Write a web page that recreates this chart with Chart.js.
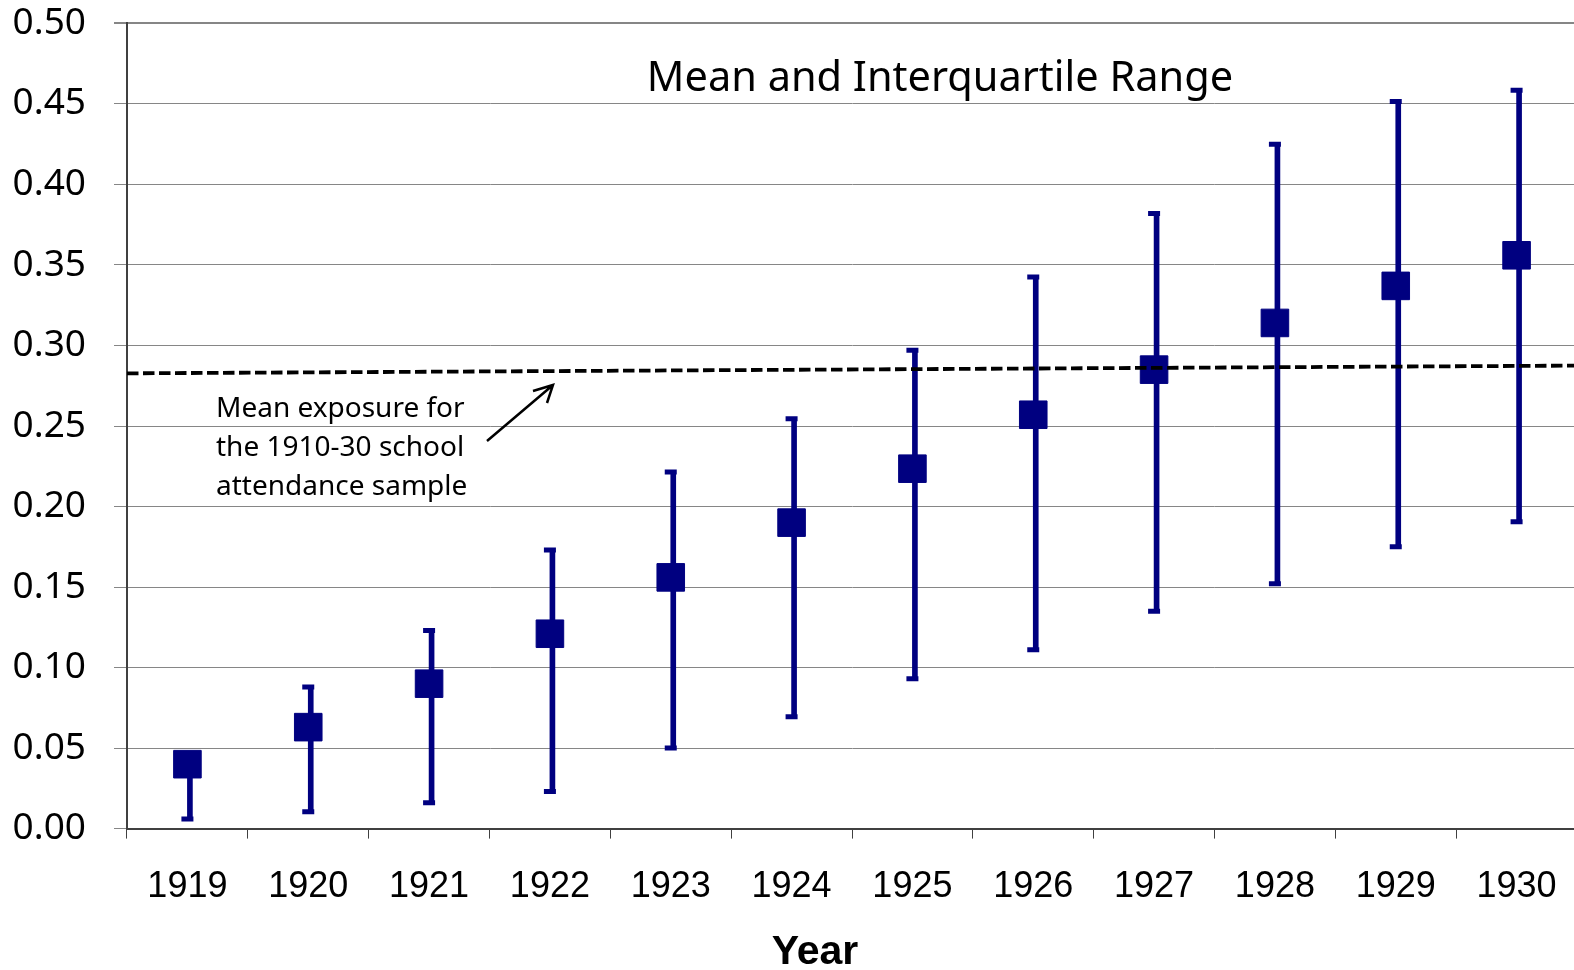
<!DOCTYPE html>
<html>
<head>
<meta charset="utf-8">
<script src="https://cdn.jsdelivr.net/npm/chart.js@4.4.1/dist/chart.umd.min.js"></script>
<style>
html, body { margin: 0; padding: 0; overflow: hidden; background: #fff; }
#wrap { width: 1577px; height: 970px; }
</style>
</head>
<body>
<div id="wrap"><canvas id="exposure-chart"></canvas></div>
<script>
const years = ['1919', '1920', '1921', '1922', '1923', '1924', '1925', '1926', '1927', '1928', '1929', '1930'];
const means = [0.040, 0.063, 0.090, 0.121, 0.156, 0.190, 0.2235, 0.257, 0.285, 0.314, 0.337, 0.356];
const q25 = [0.006, 0.0105, 0.016, 0.023, 0.050, 0.0695, 0.093, 0.111, 0.135, 0.152, 0.175, 0.1905];
const q75 = [0.035, 0.088, 0.123, 0.173, 0.2215, 0.2545, 0.297, 0.3425, 0.382, 0.425, 0.4515, 0.4585];
// sample mean line, left edge to right edge of the plot
const refLine = [{ x: 0, y: 0.2827 }, { x: 12, y: 0.2875 }];

const chartTitle = 'Mean and Interquartile Range';
const xTitle = 'Year';
const noteLines = ['Mean exposure for', 'the 1910-30 school', 'attendance sample'];

const navy = '#000080';

// title, axis title, note and arrow
const notes = {
    id: 'notes',
    afterDraw(chart) {
        const c = chart.ctx;
        c.save();
        c.fillStyle = '#000';
        c.textBaseline = 'middle';
        c.textAlign = 'center';
        c.font = '41.5px "Noto Sans"';
        c.fillText(chartTitle, 940, 79);

        c.textBaseline = 'alphabetic';
        c.font = 'bold 41px "Liberation Sans"';
        c.fillText(xTitle, 815, 964);

        c.textBaseline = 'middle';
        c.textAlign = 'left';
        c.font = '28px "Noto Sans"';
        noteLines.forEach((t, i) => c.fillText(t, 216, 409 + i * 39));

        c.strokeStyle = '#000';
        c.lineWidth = 2.5;
        c.beginPath();
        c.moveTo(487, 441);
        c.lineTo(553, 385);
        c.moveTo(533, 391);
        c.lineTo(553, 385);
        c.lineTo(547, 403);
        c.stroke();
        c.restore();
    }
};

const ctx = document.getElementById('exposure-chart');

new Chart(ctx, {
    data: {
        labels: years,
        datasets: [
            {
                type: 'line',
                xAxisID: 'x2',
                data: refLine,
                borderColor: '#000',
                borderWidth: 3.8,
                borderDash: [11.5, 4.5],
                pointRadius: 0,
                order: 0
            },
            {
                type: 'line',
                data: means,
                showLine: false,
                pointStyle: 'rect',
                pointRadius: 19.5,
                backgroundColor: navy,
                borderColor: navy,
                borderWidth: 1,
                order: 1
            },
            {
                type: 'line',
                data: q75,
                showLine: false,
                pointStyle: 'line',
                pointRadius: 6,
                borderColor: navy,
                pointBorderWidth: 5,
                order: 2
            },
            {
                type: 'line',
                data: q25,
                showLine: false,
                pointStyle: 'line',
                pointRadius: 6,
                borderColor: navy,
                pointBorderWidth: 5,
                order: 2
            },
            {
                type: 'bar',
                data: years.map((y, i) => [q25[i], q75[i]]),
                backgroundColor: navy,
                barThickness: 5,
                order: 3
            }
        ]
    },
    options: {
        responsive: true,
        maintainAspectRatio: false,
        animation: false,
        events: [],
        layout: { autoPadding: false, padding: { top: 23.4, left: 0, right: 0, bottom: 0 } },
        plugins: {
            legend: { display: false },
            tooltip: { enabled: false }
        },
        scales: {
            x: {
                offset: true,
                grid: {
                    offset: true,
                    drawOnChartArea: false,
                    tickLength: 10,
                    tickColor: '#404040'
                },
                border: { color: '#404040', width: 2 },
                ticks: {
                    color: '#000',
                    padding: 26.5,
                    maxRotation: 0,
                    font: { family: '"Liberation Sans", Arial', size: 36 }
                },
                afterFit(scale) {
                    scale.height = 141.4;
                    scale.paddingLeft = 0;
                    scale.paddingRight = 0;
                }
            },
            x2: {
                type: 'linear',
                display: false,
                min: 0,
                max: 12
            },
            y: {
                min: 0,
                max: 0.5,
                grid: {
                    color: '#868686',
                    lineWidth: c => (c.tick && c.tick.value === 0.5 ? 2 : 1),
                    tickLength: 13,
                    tickColor: '#868686'
                },
                border: { color: '#404040', width: 2 },
                ticks: {
                    stepSize: 0.05,
                    color: '#000',
                    padding: 28,
                    font: { family: '"Noto Sans"', size: 37 },
                    callback: v => v.toFixed(2)
                },
                afterFit(scale) {
                    scale.width = 127;
                    scale.paddingTop = 0;
                    scale.paddingBottom = 0;
                }
            }
        }
    },
    plugins: [notes]
});
</script>
</body>
</html>
